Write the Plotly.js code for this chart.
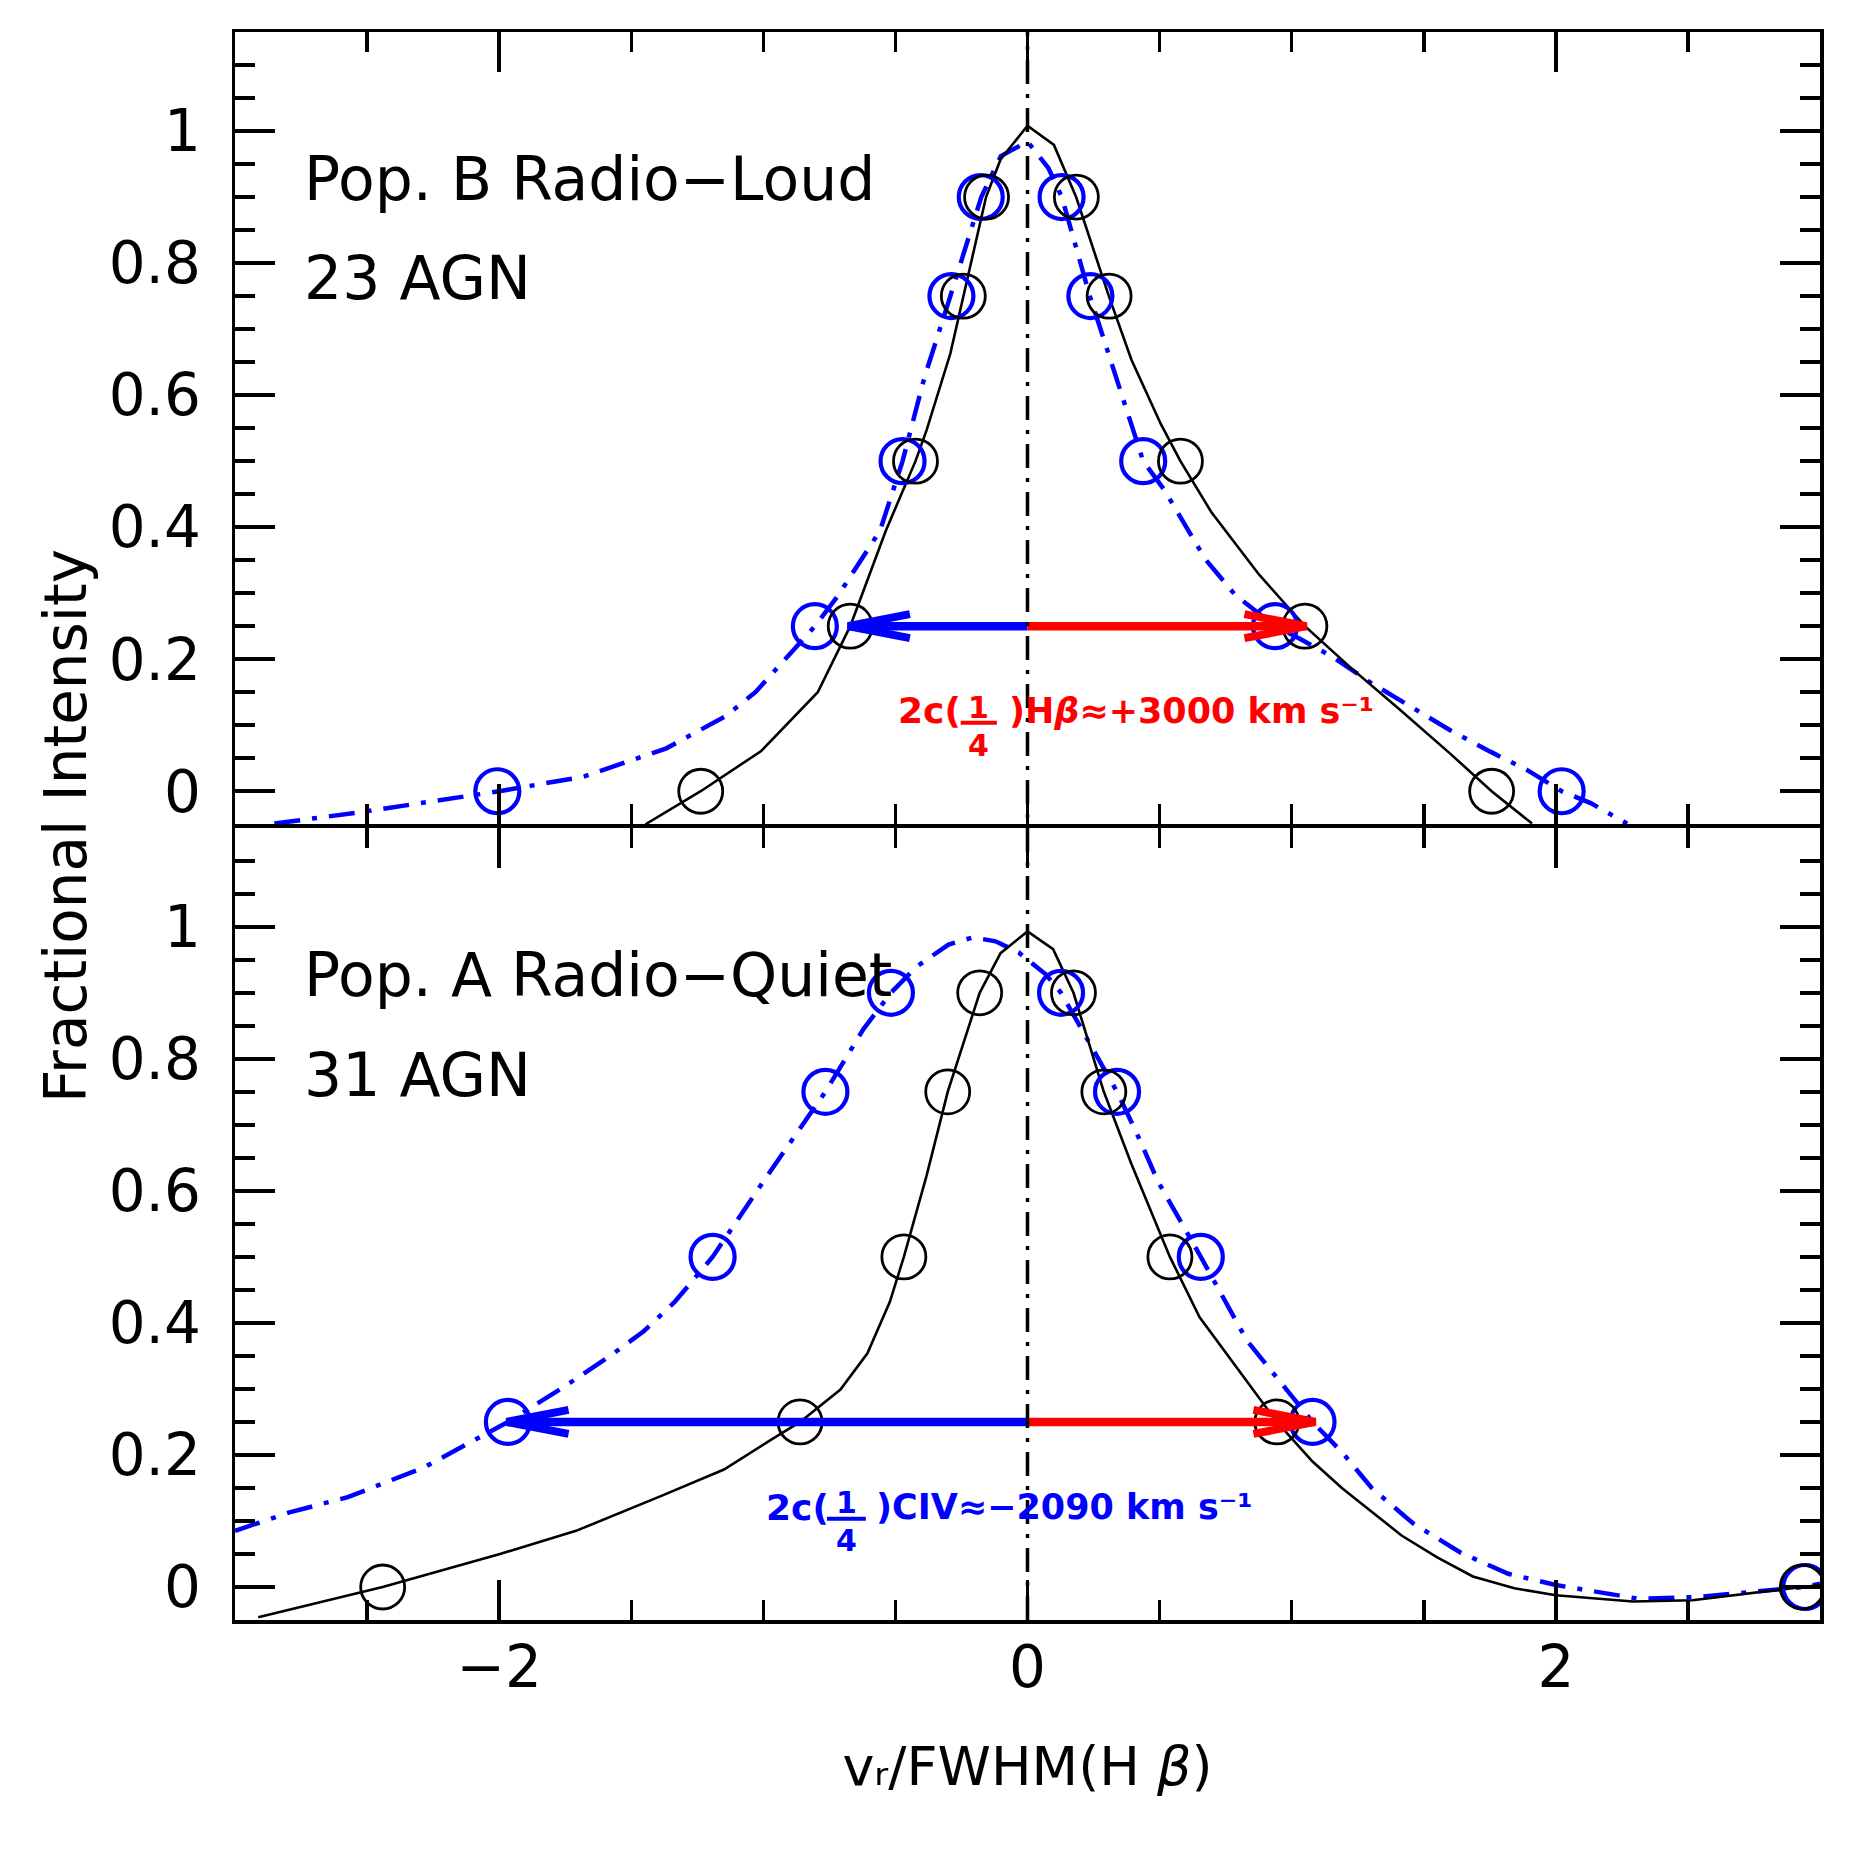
<!DOCTYPE html>
<html>
<head>
<meta charset="utf-8">
<script src="https://cdn.plot.ly/plotly-3.0.1.min.js"></script>
<style>html,body{margin:0;padding:0;background:#fff;}#chart{width:1856px;height:1851px;}</style>
</head>
<body>
<div id="chart"></div>
<script>
// ---------- tick labels ----------
const xTickVals = [-2, 0, 2];
const xTickText = ['\u22122', '0', '2'];
const yTickVals = [0, 0.2, 0.4, 0.6, 0.8, 1];
const yTickText = ['0', '0.2', '0.4', '0.6', '0.8', '1'];

// ---------- measured points (fractional intensity levels) ----------
const levels = [0, 0.25, 0.5, 0.75, 0.9, 0.9, 0.75, 0.5, 0.25, 0];
// Pop. B Radio-Loud (top panel)
const rlHbPointsX  = [-1.237, -0.671, -0.424, -0.243, -0.155, 0.185, 0.309, 0.579, 1.050, 1.757];
const rlCivPointsX = [-2.007, -0.805, -0.473, -0.288, -0.177, 0.129, 0.238, 0.438, 0.937, 2.022];
// Pop. A Radio-Quiet (bottom panel)
const rqHbPointsX  = [-2.441, -0.861, -0.468, -0.302, -0.181, 0.174, 0.289, 0.539, 0.944, 2.933];
const rqCivLevels  = [0.25, 0.5, 0.75, 0.9, 0.9, 0.75, 0.5, 0.25, 0];
const rqCivPointsX = [-1.967, -1.192, -0.765, -0.517, 0.127, 0.339, 0.656, 1.079, 2.944];

// ---------- profiles ----------
const rlHbCurveX = [-1.446, -1.237, -1.008, -0.794, -0.671, -0.536, -0.424, -0.382, -0.292, -0.243, -0.157, -0.102, 0, 0.100, 0.184, 0.308, 0.393, 0.505, 0.579, 0.697, 0.877, 1.050, 1.221, 1.411, 1.600, 1.757, 1.910];
const rlHbCurveY = [-0.05, 0, 0.061, 0.150, 0.25, 0.395, 0.5, 0.547, 0.663, 0.75, 0.9, 0.957, 1.008, 0.979, 0.9, 0.75, 0.654, 0.556, 0.5, 0.422, 0.328, 0.25, 0.188, 0.123, 0.057, 0, -0.049];

const rlCivCurveX = [-2.851, -2.512, -2.0, -1.682, -1.367, -1.142, -1.030, -0.805, -0.716, -0.558, -0.473, -0.390, -0.292, -0.175, -0.101, 0, 0.079, 0.130, 0.236, 0.292, 0.381, 0.438, 0.517, 0.674, 0.787, 0.937, 1.031, 1.157, 1.297, 1.449, 1.600, 1.752, 1.892, 2.022, 2.132, 2.270];
const rlCivCurveY = [-0.049, -0.031, 0, 0.022, 0.065, 0.114, 0.150, 0.25, 0.297, 0.395, 0.5, 0.627, 0.75, 0.9, 0.962, 0.984, 0.944, 0.9, 0.75, 0.681, 0.574, 0.5, 0.457, 0.351, 0.297, 0.25, 0.231, 0.203, 0.165, 0.128, 0.0925, 0.060, 0.032, 0, -0.018, -0.049];

const rqHbCurveX = [-2.912, -2.441, -1.997, -1.709, -1.386, -1.149, -0.979, -0.861, -0.708, -0.606, -0.521, -0.468, -0.382, -0.302, -0.181, -0.102, 0, 0.097, 0.174, 0.289, 0.393, 0.539, 0.651, 0.944, 1.079, 1.190, 1.303, 1.416, 1.551, 1.686, 1.843, 2.0, 2.292, 2.517, 2.933, 3.0];
const rqHbCurveY = [-0.046, 0, 0.050, 0.085, 0.138, 0.178, 0.221, 0.25, 0.299, 0.354, 0.432, 0.5, 0.623, 0.75, 0.9, 0.960, 0.993, 0.966, 0.9, 0.75, 0.641, 0.5, 0.409, 0.25, 0.190, 0.150, 0.114, 0.078, 0.045, 0.016, -0.002, -0.0125, -0.022, -0.020, 0, 0.003];

const rqCivCurveX = [-3.0, -2.794, -2.573, -2.285, -1.967, -1.759, -1.573, -1.454, -1.335, -1.192, -0.985, -0.765, -0.621, -0.517, -0.419, -0.299, -0.207, -0.121, -0.033, 0.069, 0.127, 0.339, 0.423, 0.494, 0.656, 0.831, 1.079, 1.191, 1.303, 1.461, 1.640, 1.820, 2.0, 2.315, 2.539, 2.944, 3.0];
const rqCivCurveY = [0.085, 0.113, 0.136, 0.181, 0.25, 0.302, 0.352, 0.387, 0.432, 0.5, 0.623, 0.75, 0.845, 0.9, 0.940, 0.973, 0.984, 0.978, 0.961, 0.928, 0.9, 0.75, 0.679, 0.614, 0.5, 0.373, 0.25, 0.204, 0.150, 0.096, 0.052, 0.020, 0.003, -0.018, -0.015, 0, 0.005];

// ---------- quarter-width arrows ----------
const arrowLevel = 0.25;
const rlArrowBlue = -0.68;
const rlArrowRed = 1.056;
const rqArrowBlue = -1.972;
const rqArrowRed = 1.090;

// ---------- styles ----------
const FONT = 'DejaVu Sans';
const BLUE = '#0000ff';
const RED = '#ff0000';
const blackLine = {color: 'black', width: 2.6};
const blueLine = {color: BLUE, width: 4.5, dash: '26px,12px,5px,12px'};
const blackMarker = {symbol: 'circle-open', size: 44, color: 'black', line: {color: 'black', width: 2.8}};
const blueMarker = {symbol: 'circle-open', size: 44, color: BLUE, line: {color: BLUE, width: 4.2}};

function panelTraces(xa, ya, hbCX, hbCY, civCX, civCY, hbPX, hbPY, civPX, civPY, tipBlue, tipRed) {
  return [
    {x: civCX, y: civCY, xaxis: xa, yaxis: ya, mode: 'lines', line: blueLine, hoverinfo: 'skip'},
    {x: hbCX, y: hbCY, xaxis: xa, yaxis: ya, mode: 'lines', line: blackLine, hoverinfo: 'skip'},
    {x: civPX, y: civPY, xaxis: xa, yaxis: ya, mode: 'markers', marker: blueMarker, hoverinfo: 'skip'},
    {x: hbPX, y: hbPY, xaxis: xa, yaxis: ya, mode: 'markers', marker: blackMarker, hoverinfo: 'skip'},
    {x: [0, tipBlue], y: [arrowLevel, arrowLevel], xaxis: xa, yaxis: ya, mode: 'lines', line: {color: BLUE, width: 8.5}, hoverinfo: 'skip'},
    {x: [0, tipRed], y: [arrowLevel, arrowLevel], xaxis: xa, yaxis: ya, mode: 'lines', line: {color: RED, width: 8.5}, hoverinfo: 'skip'}
  ];
}

const data = [].concat(
  panelTraces('x2', 'y2', rlHbCurveX, rlHbCurveY, rlCivCurveX, rlCivCurveY, rlHbPointsX, levels, rlCivPointsX, levels, rlArrowBlue, rlArrowRed),
  panelTraces('x', 'y', rqHbCurveX, rqHbCurveY, rqCivCurveX, rqCivCurveY, rqHbPointsX, levels, rqCivPointsX, rqCivLevels, rqArrowBlue, rqArrowRed)
);

function xAxis(showLabels, anchor, title) {
  const a = {
    anchor: anchor, range: [-3, 3], tickmode: 'array', tickvals: xTickVals, ticktext: xTickText,
    showticklabels: showLabels, ticks: 'inside', ticklen: 40, tickwidth: 3.5, tickcolor: 'black',
    minor: {dtick: 0.5, tick0: 0, ticks: 'inside', ticklen: 20, tickwidth: 3.5, tickcolor: 'black', showgrid: false},
    showline: true, linewidth: 3.5, linecolor: 'black', mirror: 'ticks',
    showgrid: false, zeroline: false, fixedrange: true,
    tickfont: {family: FONT, size: 58, color: 'black'}, ticklabelstandoff: -6
  };
  if (title) a.title = {text: title, font: {family: FONT, size: 54, color: 'black'}, standoff: 48};
  return a;
}
function yAxis(domain, anchor) {
  return {
    anchor: anchor, domain: domain, range: [-0.05, 1.15], tickmode: 'array', tickvals: yTickVals, ticktext: yTickText,
    ticks: 'inside', ticklen: 40, tickwidth: 3.5, tickcolor: 'black',
    minor: {dtick: 0.05, tick0: 0, ticks: 'inside', ticklen: 20, tickwidth: 3.5, tickcolor: 'black', showgrid: false},
    showline: true, linewidth: 3.5, linecolor: 'black', mirror: 'ticks',
    showgrid: false, zeroline: false, fixedrange: true,
    tickfont: {family: FONT, size: 58, color: 'black'}, ticklabelstandoff: 19
  };
}

function headShape(tip, dir, color, xref, yref) {
  const b = -dir * 62;
  return {type: 'path', xref: xref, yref: yref, xsizemode: 'pixel', ysizemode: 'pixel',
    xanchor: tip, yanchor: arrowLevel, path: `M${b},12 L0,0 L${b},-12`,
    line: {color: color, width: 8}, layer: 'above'};
}

const shapes = [
  {type: 'line', xref: 'x', yref: 'paper', x0: 0, x1: 0, y0: 0, y1: 1,
   line: {color: 'black', width: 3.5, dash: '24px,10px,4px,10px'}, layer: 'above'},
  headShape(rlArrowBlue, -1, BLUE, 'x2', 'y2'),
  headShape(rlArrowRed, 1, RED, 'x2', 'y2'),
  headShape(rqArrowBlue, -1, BLUE, 'x', 'y'),
  headShape(rqArrowRed, 1, RED, 'x', 'y'),
  {type: 'line', xref: 'x2', yref: 'y2', x0: -0.253, x1: -0.116, y0: 0.1036, y1: 0.1036, line: {color: RED, width: 4}},
  {type: 'line', xref: 'x', yref: 'y', x0: -0.759, x1: -0.612, y0: 0.1034, y1: 0.1034, line: {color: BLUE, width: 4}}
];

function txt(text, x, y, xref, yref, size, color, xanchor, weight) {
  return {text: text, x: x, y: y, xref: xref, yref: yref, showarrow: false,
    xanchor: xanchor || 'left', yanchor: 'middle',
    font: {family: FONT, size: size, color: color, weight: weight || 'normal'}};
}

const annotations = [
  txt('Pop. B Radio\u2212Loud', -2.748, 0.928, 'x2', 'y2', 60, 'black'),
  txt('23 AGN', -2.748, 0.778, 'x2', 'y2', 60, 'black'),
  txt('Pop. A Radio\u2212Quiet', -2.748, 0.927, 'x', 'y', 60, 'black'),
  txt('31 AGN', -2.748, 0.775, 'x', 'y', 60, 'black'),
  // red label (top)
  txt('2c(', -0.496, 0.122, 'x2', 'y2', 36, RED, 'left', 'bold'),
  txt('1', -0.184, 0.1265, 'x2', 'y2', 30, RED, 'center', 'bold'),
  txt('4', -0.184, 0.070, 'x2', 'y2', 30, RED, 'center', 'bold'),
  txt(')H<i>\u03b2</i>\u2248+3000 km s\u207b\u00b9', -0.078, 0.122, 'x2', 'y2', 35, RED, 'left', 'bold'),
  // blue label (bottom)
  txt('2c(', -0.999, 0.121, 'x', 'y', 36, BLUE, 'left', 'bold'),
  txt('1', -0.686, 0.128, 'x', 'y', 30, BLUE, 'center', 'bold'),
  txt('4', -0.686, 0.070, 'x', 'y', 30, BLUE, 'center', 'bold'),
  txt(')CIV\u2248\u22122090 km s\u207b\u00b9', -0.580, 0.121, 'x', 'y', 35, BLUE, 'left', 'bold'),
  // y title
  {text: 'Fractional Intensity', xref: 'paper', yref: 'paper', x: -0.1066, y: 0.5, xanchor: 'center', yanchor: 'middle',
   textangle: -90, showarrow: false, font: {family: FONT, size: 58, color: 'black'}}
];

const layout = {
  width: 1856, height: 1851,
  margin: {l: 235, r: 36, t: 32, b: 231, pad: 0},
  paper_bgcolor: 'white', plot_bgcolor: 'white',
  showlegend: false,
  xaxis: xAxis(true, 'y', 'v\u1d63/FWHM(H <i>\u03b2</i>)'),
  xaxis2: xAxis(false, 'y2', null),
  yaxis: yAxis([0, 0.4989], 'x'),
  yaxis2: yAxis([0.5011, 1], 'x2'),
  shapes: shapes,
  annotations: annotations
};

Plotly.newPlot('chart', data, layout, {staticPlot: true, displayModeBar: false});
</script>
</body>
</html>
